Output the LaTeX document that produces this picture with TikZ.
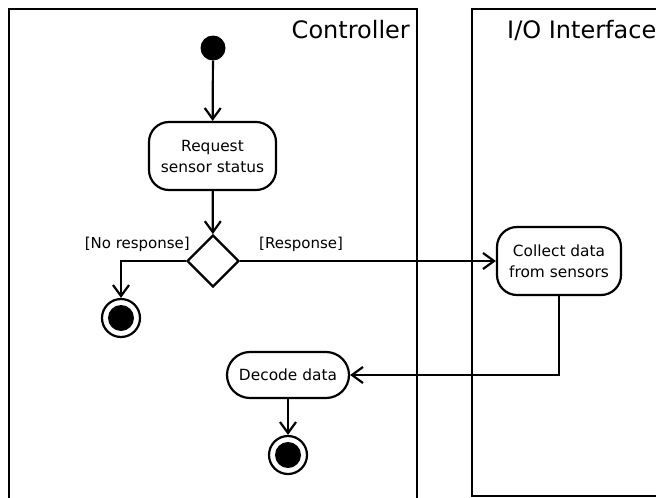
\documentclass[tikz,border=0pt]{standalone}
\usepackage{fontspec}
\setmainfont{DejaVu Sans}
\usetikzlibrary{arrows.meta,shapes.geometric}

\tikzset{
  lane/.style={line width=2.2pt},
  lanetitle/.style={font=\fontsize{24}{28}\selectfont, inner sep=0pt},
  action/.style={draw, line width=2.2pt, rectangle, rounded corners=20pt,
    align=center, font=\fontsize{15.4}{21}\selectfont, inner sep=0pt},
  initial/.style={circle, fill=black, inner sep=0pt, minimum size=25pt},
  final/.style={circle, draw, line width=2.2pt, inner sep=0pt, minimum size=38pt,
    path picture={\fill (path picture bounding box.center) circle (13pt);}},
  decision/.style={diamond, draw, line width=2.2pt, inner sep=0pt,
    minimum width=52pt, minimum height=52pt},
  flow/.style={line width=2.2pt, -{Straight Barb[length=11pt,width=16pt,line width=2.2pt]}},
  guard/.style={font=\fontsize{15}{17}\selectfont, inner sep=0pt}
}

\begin{document}
\begin{tikzpicture}[x=1pt,y=-1pt]
  \useasboundingbox (0,0) rectangle (656,498);
  \clip (0,0) rectangle (656,498);
  \fill[white] (0,0) rectangle (656,498);

  % swimlanes
  \draw[lane] (9,520) -- (9,9) -- (417,9) -- (417,520);
  \draw[lane] (700,496) -- (472,496) -- (472,9) -- (700,9);
  \node[lanetitle, anchor=base east] (ctl) at (410,38) {Controller};
  \node[lanetitle, anchor=base west] (io) at (507,38) {I/O Interface};

  % activity nodes
  \node[initial] (start) at (213,48) {};
  \node[action, minimum width=127pt, minimum height=68pt] (req) at (212.5,156) {Request\\sensor status};
  \node[decision] (dec) at (213,261) {};
  \node[final] (end1) at (121,318) {};
  \node[action, minimum width=124pt, minimum height=68pt] (collect) at (559,261) {Collect data\\from sensors};
  \node[action, rounded corners=23pt, minimum width=122pt, minimum height=46pt] (decode) at (288,375) {Decode data};
  \node[final] (end2) at (288,455) {};

  % guards
  \node[guard, anchor=base east] (gno) at (190,248) {[No response]};
  \node[guard, anchor=base west] (gyes) at (259,248) {[Response]};

  % control flow
  \draw[flow] (start) -- (req);
  \draw[flow] (req) -- (dec);
  \draw[flow] (dec.west) -| (end1);
  \draw[flow] (dec.east) -- (collect.west);
  \draw[flow] (collect.south) |- (decode.east);
  \draw[flow] (decode) -- (end2);
\end{tikzpicture}
\end{document}
